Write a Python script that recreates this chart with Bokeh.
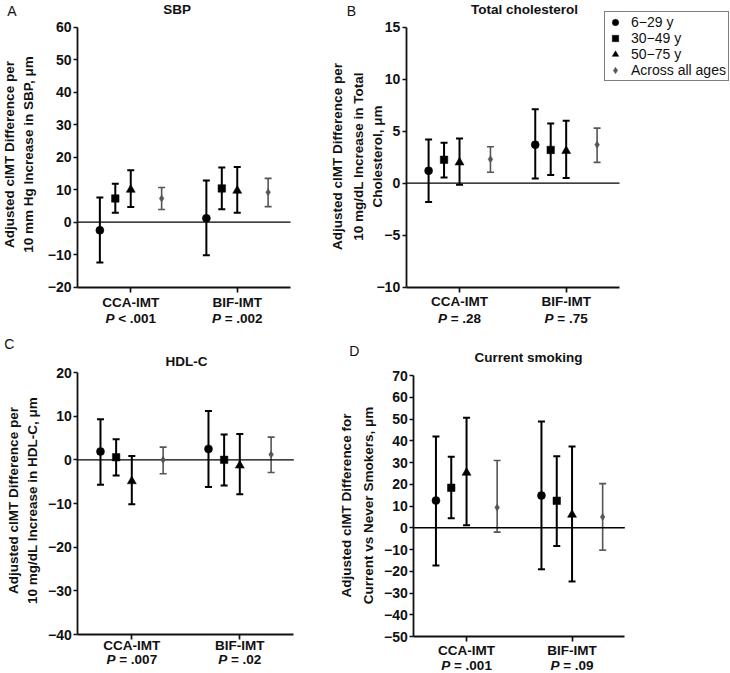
import numpy as np
from bokeh.plotting import figure
from bokeh.models import (Range1d, FixedTicker, Label, Whisker, TeeHead,
                          ColumnDataSource, Legend, LegendItem)
from bokeh.layouts import row, column
from bokeh.embed import file_html
from bokeh.resources import INLINE

# ---------------- data ----------------
categories = ["CCA-IMT", "BIF-IMT"]
groups = ["6\u221229 y", "30\u221249 y", "50\u221275 y", "Across all ages"]

# SBP (per 10 mm Hg)
sbp_cca_est = [-2.5, 7.3, 10.0, 7.3]
sbp_cca_low = [-12.4, 2.9, 4.7, 3.9]
sbp_cca_high = [7.6, 11.8, 16.0, 10.7]
sbp_bif_est = [1.2, 10.4, 9.7, 9.2]
sbp_bif_low = [-10.2, 4.0, 2.9, 4.8]
sbp_bif_high = [12.8, 16.8, 17.0, 13.5]
sbp_p = ["< .001", "= .002"]
sbp_ticks = [-20, -10, 0, 10, 20, 30, 40, 50, 60]

# Total cholesterol (per 10 mg/dL)
tc_cca_est = [1.2, 2.25, 2.0, 2.3]
tc_cca_low = [-1.8, 0.55, -0.15, 1.05]
tc_cca_high = [4.2, 3.9, 4.3, 3.5]
tc_bif_est = [3.7, 3.2, 3.1, 3.7]
tc_bif_low = [0.45, 0.8, 0.5, 2.0]
tc_bif_high = [7.1, 5.75, 6.0, 5.3]
tc_p = ["= .28", "= .75"]
tc_ticks = [-10, -5, 0, 5, 10, 15]

# HDL-C (per 10 mg/dL)
hdl_cca_est = [1.9, 0.6, -4.9, 0.0]
hdl_cca_low = [-5.7, -3.6, -10.2, -3.2]
hdl_cca_high = [9.3, 4.7, 0.85, 2.9]
hdl_bif_est = [2.5, 0.0, -1.3, 1.2]
hdl_bif_low = [-6.2, -5.9, -7.9, -2.9]
hdl_bif_high = [11.2, 5.8, 5.9, 5.2]
hdl_p = ["= .007", "= .02"]
hdl_ticks = [-40, -30, -20, -10, 0, 10, 20]

# Current smoking
smk_cca_est = [12.5, 18.4, 25.3, 9.3]
smk_cca_low = [-17.3, 4.4, 1.2, -2.0]
smk_cca_high = [42.0, 32.6, 50.6, 30.9]
smk_bif_est = [14.8, 12.4, 6.0, 5.0]
smk_bif_low = [-19.1, -8.4, -24.7, -10.3]
smk_bif_high = [48.9, 32.9, 37.3, 20.3]
smk_p = ["= .001", "= .09"]
smk_ticks = [-50, -40, -30, -20, -10, 0, 10, 20, 30, 40, 50, 60, 70]

# ---------------- styling ----------------
FONT = "Liberation Sans"
XLO, XHI = -0.5, 1.5
offsets = [-0.29, -0.145, 0.0, 0.29]
markers = ["circle", "square", "triangle", "diamond"]
msizes = [8, 7.5, 9, 7]
colors = ["black", "black", "black", "#555555"]
bar_w = [2.0, 2.0, 2.0, 1.6]
INK = "#111111"

CW = {' ': .278, '=': .584, '<': .584, '.': .278}
for d in "0123456789":
    CW[d] = .556


def text_w(t, size):
    return sum(CW.get(c, .556) for c in t) * size


def make_panel(origin, size, frame, ticks, est, low, high, pvals,
               letter, letter_pos, title, title_pos, ylines, ylines_x,
               ylab_y, cat_y, p_y):
    ox, oy = origin
    W, H = size
    fl, fr, ft, fb = frame          # plot-area edges in page pixels
    l, r, t, b = fl - ox, fr - ox, ft - oy, fb - oy
    y0, y1 = ticks[0], ticks[-1]
    ux = (XHI - XLO) / (r - l)
    uy = (y1 - y0) / (b - t)
    p = figure(width=W, height=H, output_backend="svg", toolbar_location=None,
               x_range=Range1d(XLO - l * ux, XHI + (W - r) * ux),
               y_range=Range1d(y0 - (H - b) * uy, y1 + t * uy),
               min_border=0)
    p.outline_line_color = None
    p.grid.visible = False
    p.background_fill_color = "white"
    p.border_fill_color = "white"

    for ax in (p.xaxis[0], p.yaxis[0]):
        ax.axis_line_width = 1.8
        ax.axis_line_color = "#111111"
        ax.major_tick_line_width = 1.7
        ax.major_tick_line_color = "#111111"
        ax.major_tick_in = 0
        ax.minor_tick_line_color = None
        ax.major_label_text_font = FONT
        ax.major_label_text_font_style = "bold"
        ax.major_label_text_font_size = "14px"
        ax.major_label_text_color = INK
    p.yaxis.fixed_location = XLO
    p.yaxis.bounds = (y0, y1)
    p.yaxis.ticker = FixedTicker(ticks=ticks)
    p.yaxis.major_tick_out = 4
    p.yaxis.major_label_standoff = 2
    p.yaxis.major_label_overrides = {v: str(v).replace("-", "\u2212") for v in ticks}
    p.xaxis.fixed_location = y0
    p.xaxis.bounds = (XLO, XHI)
    p.xaxis.ticker = FixedTicker(ticks=[0, 1])
    p.xaxis.major_tick_out = 5
    p.xaxis.major_label_overrides = {0: "", 1: ""}

    # zero reference line across the plot area
    p.segment(x0=[XLO], y0=[0], x1=[XHI], y1=[0], line_color="black", line_width=1.3)

    renderers = []
    for g in range(4):
        xs = [0 + offsets[g], 1 + offsets[g]]
        src = ColumnDataSource(dict(x=xs, y=[est[0][g], est[1][g]],
                                    lo=[low[0][g], low[1][g]], hi=[high[0][g], high[1][g]]))
        w = Whisker(source=src, base="x", upper="hi", lower="lo", dimension="height",
                    line_color=colors[g], line_width=bar_w[g],
                    upper_head=TeeHead(size=7, line_color=colors[g], line_width=bar_w[g]),
                    lower_head=TeeHead(size=7, line_color=colors[g], line_width=bar_w[g]))
        p.add_layout(w)
        rr = p.scatter("x", "y", source=src, marker=markers[g], size=msizes[g],
                       fill_color=colors[g], line_color=colors[g], line_width=0.5)
        renderers.append(rr)

    def sx(px):
        return px - ox

    def sy(py):
        return H - (py - oy)

    def lab(text, px, py, size="13.5px", style="bold", angle=0.0):
        p.add_layout(Label(x=sx(px), y=sy(py), x_units="screen", y_units="screen",
                           text=text, text_align="center", text_baseline="middle", angle=angle,
                           text_font=FONT, text_font_size=size, text_font_style=style,
                           text_color=INK))

    lab(letter, letter_pos[0], letter_pos[1], size="14px", style="normal")
    lab(title, title_pos[0], title_pos[1], size="13.5px", style="bold")
    for txt, lx in zip(ylines, ylines_x):
        lab(txt, lx, ylab_y, size="13.5px", style="bold", angle=np.pi / 2)

    # category labels and P values
    fs = 13.5
    for i, cat in enumerate(categories):
        p.add_layout(Label(x=i, y=sy(cat_y), x_units="data", y_units="screen",
                           text=cat, text_align="center", text_baseline="middle",
                           text_font=FONT, text_font_size="13.5px", text_font_style="bold",
                           text_color=INK))
        rest = pvals[i]
        wp = 0.667 * fs
        wsp = 0.278 * fs
        Wt = wp + wsp + text_w(rest, fs)
        xo = -Wt / 2 + wp
        p.add_layout(Label(x=i, y=sy(p_y), x_units="data", y_units="screen",
                           x_offset=xo, text="P", text_align="right", text_baseline="middle",
                           text_font=FONT, text_font_size="13.5px", text_font_style="bold italic",
                           text_color=INK))
        p.add_layout(Label(x=i, y=sy(p_y), x_units="data", y_units="screen",
                           x_offset=xo + wsp, text=rest, text_align="left", text_baseline="middle",
                           text_font=FONT, text_font_size="13.5px", text_font_style="bold",
                           text_color=INK))
    return p, renderers, sx, sy


SPLIT_X, SPLIT_Y, TOT_W, TOT_H = 305, 334, 729, 672

pA, _, _, _ = make_panel((0, 0), (SPLIT_X, SPLIT_Y), (77.0, 290.0, 26.7, 286.7), sbp_ticks,
                         [sbp_cca_est, sbp_bif_est], [sbp_cca_low, sbp_bif_low],
                         [sbp_cca_high, sbp_bif_high], sbp_p,
                         "A", (11.3, 10.5), "SBP", (176.7, 9.2),
                         ["Adjusted cIMT Difference per", "10 mm Hg Increase in SBP, \u03bcm"],
                         [9.2, 27.5], 154, 301.8, 318.2)

pB, rB, sxB, syB = make_panel((SPLIT_X, 0), (TOT_W - SPLIT_X, SPLIT_Y),
                              (405.7, 619.0, 26.7, 286.7), tc_ticks,
                              [tc_cca_est, tc_bif_est], [tc_cca_low, tc_bif_low],
                              [tc_cca_high, tc_bif_high], tc_p,
                              "B", (351.0, 10.0), "Total cholesterol", (524.0, 8.5),
                              ["Adjusted cIMT Difference per", "10 mg/dL Increase in Total",
                               "Cholesterol, \u03bcm"],
                              [337.0, 357.5, 377.0], 156, 300.5, 317.5)

pC, _, _, _ = make_panel((0, SPLIT_Y), (SPLIT_X, TOT_H - SPLIT_Y), (77.3, 293.3, 372.0, 634.0),
                         hdl_ticks,
                         [hdl_cca_est, hdl_bif_est], [hdl_cca_low, hdl_bif_low],
                         [hdl_cca_high, hdl_bif_high], hdl_p,
                         "C", (8.7, 343.5), "HDL-C", (186.0, 360.7),
                         ["Adjusted cIMT Difference per", "10 mg/dL Increase in HDL-C, \u03bcm"],
                         [13.3, 32.0], 500, 644.5, 658.5)

pD, _, _, _ = make_panel((SPLIT_X, SPLIT_Y), (TOT_W - SPLIT_X, TOT_H - SPLIT_Y),
                         (413.3, 624.3, 375.0, 636.0), smk_ticks,
                         [smk_cca_est, smk_bif_est], [smk_cca_low, smk_bif_low],
                         [smk_cca_high, smk_bif_high], smk_p,
                         "D", (353.7, 350.5), "Current smoking", (528.0, 357.3),
                         ["Adjusted cIMT Difference for", "Current vs Never Smokers, \u03bcm"],
                         [346.0, 368.0], 505, 650.0, 665.0)

legend = Legend(items=[LegendItem(label=g, renderers=[r]) for g, r in zip(groups, rB)],
                location=(sxB(604), syB(81)), label_text_font=FONT, label_text_font_size="14px",
                label_text_color=INK, glyph_width=16, glyph_height=16, label_height=16,
                label_standoff=8, padding=2, spacing=0, margin=0,
                border_line_color="black", border_line_width=1,
                background_fill_color="white", background_fill_alpha=1.0)
pB.add_layout(legend)

layout = column(row(pA, pB), row(pC, pD))

open("out.html", "w").write(file_html(layout, INLINE))
